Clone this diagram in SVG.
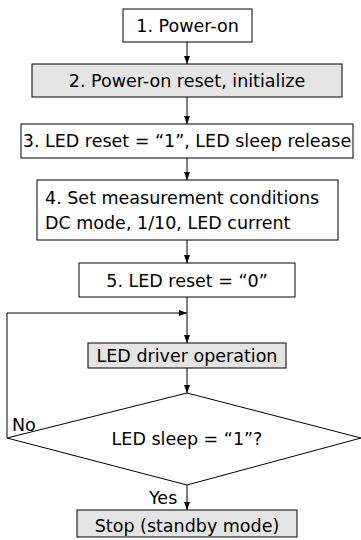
<svg xmlns="http://www.w3.org/2000/svg" width="361" height="540" viewBox="0 0 361 540">
<style>
.b{fill:#fff;stroke:#000;stroke-width:1}
.g{fill:#e4e4e4;stroke:#000;stroke-width:1}
.t{font-family:"DejaVu Sans",sans-serif;font-size:17.5px;fill:#000;text-anchor:middle}
.l{fill:none;stroke:#000;stroke-width:1}
</style>
<defs>
<marker id="a" markerWidth="8" markerHeight="6" refX="8" refY="3" orient="auto" markerUnits="userSpaceOnUse">
<path d="M0,0 L8,3 L0,6 z" fill="#000"/>
</marker>
</defs>
<g id="connectors">
<line class="l" x1="187" y1="42" x2="187" y2="64" marker-end="url(#a)"/>
<line class="l" x1="187" y1="97" x2="187" y2="124" marker-end="url(#a)"/>
<line class="l" x1="187" y1="158" x2="187" y2="180" marker-end="url(#a)"/>
<line class="l" x1="187" y1="240" x2="187" y2="263" marker-end="url(#a)"/>
<line class="l" x1="187" y1="297" x2="187" y2="343" marker-end="url(#a)"/>
<line class="l" x1="187" y1="368" x2="187" y2="393" marker-end="url(#a)"/>
<polyline class="l" points="7,438 7,313 187,313" marker-end="url(#a)"/>
<line class="l" x1="187" y1="485" x2="187" y2="510" marker-end="url(#a)"/>
<text class="t" x="12" y="431" style="text-anchor:start">No</text>
<text class="t" x="149" y="504" style="text-anchor:start">Yes</text>
</g>
<g id="n1"><rect class="b" x="123" y="9" width="129" height="33"/><text class="t" x="187.5" y="32">1. Power-on</text></g>
<g id="n2"><rect class="g" x="32" y="64" width="310" height="33"/><text class="t" x="187" y="87">2. Power-on reset, initialize</text></g>
<g id="n3"><rect class="b" x="21" y="124" width="332" height="34"/><text class="t" x="187" y="147">3. LED reset = “1”, LED sleep release</text></g>
<g id="n4"><rect class="b" x="37" y="180" width="301" height="60"/><text class="t" x="45" y="204" style="text-anchor:start">4. Set measurement conditions</text><text class="t" x="45" y="229" style="text-anchor:start">DC mode, 1/10, LED current</text></g>
<g id="n5"><rect class="b" x="79" y="263" width="216" height="34"/><text class="t" x="187" y="287">5. LED reset = “0”</text></g>
<g id="n6"><rect class="g" x="88" y="343" width="198" height="25"/><text class="t" x="187" y="362">LED driver operation</text></g>
<g id="n7"><polygon class="b" points="187,393 361,438 187,485 7,438"/><text class="t" x="187" y="445">LED sleep = “1”?</text></g>
<g id="n8"><rect class="g" x="77" y="510" width="220" height="27"/><text class="t" x="187" y="532">Stop (standby mode)</text></g>
</svg>
